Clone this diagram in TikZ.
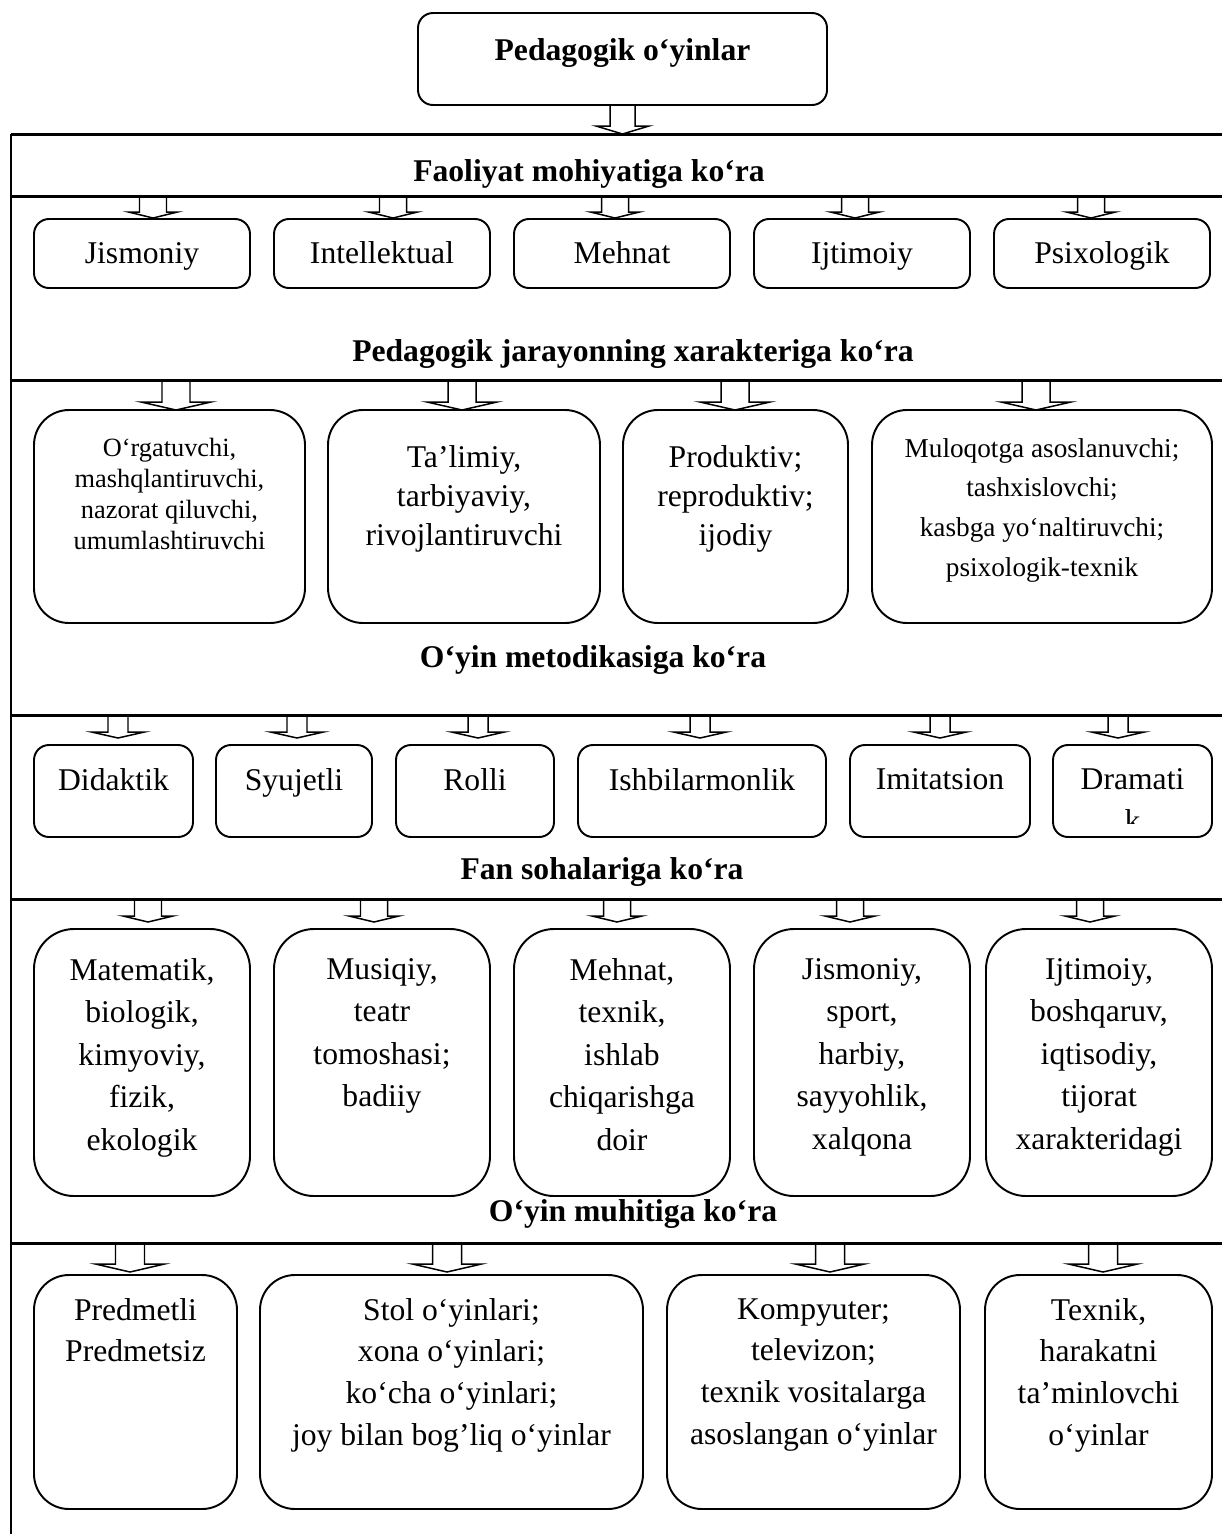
\documentclass[tikz,border=0pt]{standalone}
\usepackage{fontspec}
\setmainfont{Liberation Serif}
\usetikzlibrary{positioning,calc}

% hollow block arrow: from, to, half shaft, half head, head height, gap
\newcommand{\blkarrow}[6]{%
	\draw[blk] let \p1=(#1), \p2=(#2) in
	(\x1-#3,\y1) -- (\x1-#3,\y2+#6+#5) -- (\x1-#4,\y2+#6+#5) -- (\x1,\y2+#6)
	-- (\x1+#4,\y2+#6+#5) -- (\x1+#3,\y2+#6+#5) -- (\x1+#3,\y1);}

\begin{document}
\begin{tikzpicture}[x=0.2mm,y=-0.2mm]
	\tikzstyle{box}=[draw, line width=1.1pt, inner sep=0pt, outer sep=0pt, font=\fontsize{18}{22}\selectfont]
	\tikzstyle{row1}=[box, rounded corners=0.3cm, minimum width=4.32cm, minimum height=1.38cm, text height=13.5pt, text depth=2.7pt]
	\tikzstyle{row2}=[box, rounded corners=0.7cm, minimum height=4.26cm]
	\tikzstyle{row3}=[box, rounded corners=0.3cm, minimum height=1.84cm]
	\tikzstyle{row4}=[box, rounded corners=0.8cm, minimum height=5.34cm]
	\tikzstyle{row5}=[box, rounded corners=0.7cm, minimum height=4.68cm]
	\tikzstyle{txt}=[align=center, inner sep=0pt, font=\fontsize{18}{24}\selectfont]
	\tikzstyle{hd}=[inner sep=0pt, font=\fontsize{18}{22}\selectfont\bfseries]
	\tikzstyle{frame}=[line width=1.7pt]
	\tikzstyle{blk}=[line width=0.85pt]
	\useasboundingbox (0,0) rectangle (1222,1534);
	%Title
	\node[box, rounded corners=0.3cm, minimum width=8.18cm, minimum height=1.84cm, anchor=north west] (top) at (418,13) {};
	\node[hd, below=0.5cm of top.north] (t0) {Pedagogik o‘yinlar};
	%Frame
	\coordinate (l1w) at (11,134);   \coordinate (l1e) at (1222,134);
	\coordinate (l2w) at (11,196);   \coordinate (l2e) at (1222,196);
	\coordinate (l3w) at (11,380);   \coordinate (l3e) at (1222,380);
	\coordinate (l4w) at (11,715);   \coordinate (l4e) at (1222,715);
	\coordinate (l5w) at (11,899);   \coordinate (l5e) at (1222,899);
	\coordinate (l6w) at (11,1243);  \coordinate (l6e) at (1222,1243);
	\coordinate (fb) at (11,1534);
	\draw[frame] (l1w) -- (l1e);
	\draw[frame] (l2w) -- (l2e);
	\draw[frame] (l3w) -- (l3e);
	\draw[frame] (l4w) -- (l4e);
	\draw[frame] (l5w) -- (l5e);
	\draw[frame] (l6w) -- (l6e);
	\draw[frame] (l1w) -- (fb);
	%Headings
	\node[hd] (h1) at (589,174) {Faoliyat mohiyatiga ko‘ra};
	\node[hd] (h2) at (633,354) {Pedagogik jarayonning xarakteriga ko‘ra};
	\node[hd] (h3) at (593,660) {O‘yin metodikasiga ko‘ra};
	\node[hd] (h4) at (602,872) {Fan sohalariga ko‘ra};
	\node[hd] (h5) at (633,1214) {O‘yin muhitiga ko‘ra};
	%First Row
	\node[row1, anchor=north west] (b11) at (34,219) {Jismoniy};
	\node[row1, right=0.48cm of b11] (b12) {Intellektual};
	\node[row1, right=0.48cm of b12] (b13) {Mehnat};
	\node[row1, right=0.48cm of b13] (b14) {Ijtimoiy};
	\node[row1, right=0.48cm of b14] (b15) {Psixologik};
	%Second Row
	\node[row2, minimum width=5.42cm, anchor=north west] (b21) at (34,410) {};
	\node[row2, minimum width=5.44cm, right=0.46cm of b21] (b22) {};
	\node[row2, minimum width=4.5cm, right=0.46cm of b22] (b23) {};
	\node[row2, minimum width=6.8cm, right=0.48cm of b23] (b24) {};
	\node[txt, font=\fontsize{15}{17.6}\selectfont, below=0.56cm of b21.north] (t21) {O‘rgatuvchi,\\mashqlantiruvchi,\\nazorat qiluvchi,\\umumlashtiruvchi};
	\node[txt, font=\fontsize{18}{22.2}\selectfont, below=0.7cm of b22.north] (t22) {Ta’limiy,\\tarbiyaviy,\\rivojlantiruvchi};
	\node[txt, font=\fontsize{18}{22.2}\selectfont, below=0.7cm of b23.north] (t23) {Produktiv;\\reproduktiv;\\ijodiy};
	\node[txt, font=\fontsize{15.5}{22.6}\selectfont, below=0.56cm of b24.north] (t24) {Muloqotga asoslanuvchi;\\tashxislovchi;\\kasbga yo‘naltiruvchi;\\psixologik-texnik};
	%Third Row
	\node[row3, minimum width=3.18cm, anchor=north west] (b31) at (34,745) {};
	\node[row3, minimum width=3.12cm, right=0.46cm of b31] (b32) {};
	\node[row3, minimum width=3.16cm, right=0.48cm of b32] (b33) {};
	\node[row3, minimum width=4.96cm, right=0.48cm of b33] (b34) {};
	\node[row3, minimum width=3.6cm, right=0.48cm of b34] (b35) {};
	\node[row3, minimum width=3.18cm, right=0.46cm of b35] (b36) {};
	\node[txt, below=0.46cm of b31.north] (t31) {Didaktik};
	\node[txt, below=0.46cm of b32.north] (t32) {Syujetli};
	\node[txt, below=0.46cm of b33.north] (t33) {Rolli};
	\node[txt, below=0.46cm of b34.north] (t34) {Ishbilarmonlik};
	\node[txt, below=0.46cm of b35.north] (t35) {Imitatsion};
	\begin{scope}
		\clip (1053,745) rectangle (1212,823);
		\node[txt, below=0.46cm of b36.north] (t36) {Dramati\\k};
	\end{scope}
	%Fourth Row
	\node[row4, minimum width=4.32cm, anchor=north west] (b41) at (34,929) {};
	\node[row4, minimum width=4.32cm, right=0.48cm of b41] (b42) {};
	\node[row4, minimum width=4.32cm, right=0.48cm of b42] (b43) {};
	\node[row4, minimum width=4.32cm, right=0.48cm of b43] (b44) {};
	\node[row4, minimum width=4.52cm, right=0.32cm of b44] (b45) {};
	\node[txt, font=\fontsize{18}{24.2}\selectfont, below=0.58cm of b41.north] (t41) {Matematik,\\biologik,\\kimyoviy,\\fizik,\\ekologik};
	\node[txt, font=\fontsize{18}{24.2}\selectfont, below=0.58cm of b42.north] (t42) {Musiqiy,\\teatr\\tomoshasi;\\badiiy};
	\node[txt, font=\fontsize{18}{24.2}\selectfont, below=0.58cm of b43.north] (t43) {Mehnat,\\texnik,\\ishlab\\chiqarishga\\doir};
	\node[txt, font=\fontsize{18}{24.2}\selectfont, below=0.58cm of b44.north] (t44) {Jismoniy,\\sport,\\harbiy,\\sayyohlik,\\xalqona};
	\node[txt, font=\fontsize{18}{24.2}\selectfont, below=0.58cm of b45.north] (t45) {Ijtimoiy,\\boshqaruv,\\iqtisodiy,\\tijorat\\xarakteridagi};
	%Fifth Row
	\node[row5, minimum width=4.06cm, anchor=north west] (b51) at (34,1275) {};
	\node[row5, minimum width=7.66cm, right=0.46cm of b51] (b52) {};
	\node[row5, minimum width=5.86cm, right=0.48cm of b52] (b53) {};
	\node[row5, minimum width=4.54cm, right=0.5cm of b53] (b54) {};
	\node[txt, font=\fontsize{18}{23.7}\selectfont, below=0.46cm of b51.north] (t51) {Predmetli\\Predmetsiz};
	\node[txt, font=\fontsize{18}{23.7}\selectfont, below=0.46cm of b52.north] (t52) {Stol o‘yinlari;\\xona o‘yinlari;\\ko‘cha o‘yinlari;\\joy bilan bog’liq o‘yinlar};
	\node[txt, font=\fontsize{18}{23.7}\selectfont, below=0.46cm of b53.north] (t53) {Kompyuter;\\televizon;\\texnik vositalarga\\asoslangan o‘yinlar};
	\node[txt, font=\fontsize{18}{23.7}\selectfont, below=0.46cm of b54.north] (t54) {Texnik,\\harakatni\\ta’minlovchi\\o‘yinlar};
	%Arrows
	\coordinate (a0) at (620,134);
	\blkarrow{top.south}{a0}{0.25cm}{0.53cm}{0.16cm}{0cm}
	\coordinate (s11) at (153,196);
	\coordinate (s12) at (393,196);
	\coordinate (s13) at (615,196);
	\coordinate (s14) at (855,196);
	\coordinate (s15) at (1091,196);
	\blkarrow{s11}{b11.north}{0.27cm}{0.49cm}{0.12cm}{0.02cm}
	\blkarrow{s12}{b12.north}{0.27cm}{0.49cm}{0.12cm}{0.02cm}
	\blkarrow{s13}{b13.north}{0.27cm}{0.49cm}{0.12cm}{0.02cm}
	\blkarrow{s14}{b14.north}{0.27cm}{0.49cm}{0.12cm}{0.02cm}
	\blkarrow{s15}{b15.north}{0.27cm}{0.49cm}{0.12cm}{0.02cm}
	\coordinate (s21) at (176,380);
	\coordinate (s22) at (462,380);
	\coordinate (s23) at (735,380);
	\coordinate (s24) at (1036,380);
	\blkarrow{s21}{b21.north}{0.28cm}{0.7cm}{0.16cm}{0cm}
	\blkarrow{s22}{b22.north}{0.28cm}{0.7cm}{0.16cm}{0cm}
	\blkarrow{s23}{b23.north}{0.28cm}{0.7cm}{0.16cm}{0cm}
	\blkarrow{s24}{b24.north}{0.28cm}{0.7cm}{0.16cm}{0cm}
	\coordinate (s31) at (118,715);
	\coordinate (s32) at (297,715);
	\coordinate (s33) at (478,715);
	\coordinate (s34) at (700,715);
	\coordinate (s35) at (940,715);
	\coordinate (s36) at (1118,715);
	\blkarrow{s31}{b31.north}{0.2cm}{0.53cm}{0.12cm}{0.14cm}
	\blkarrow{s32}{b32.north}{0.2cm}{0.53cm}{0.12cm}{0.14cm}
	\blkarrow{s33}{b33.north}{0.2cm}{0.53cm}{0.12cm}{0.14cm}
	\blkarrow{s34}{b34.north}{0.2cm}{0.53cm}{0.12cm}{0.14cm}
	\blkarrow{s35}{b35.north}{0.2cm}{0.53cm}{0.12cm}{0.14cm}
	\blkarrow{s36}{b36.north}{0.2cm}{0.53cm}{0.12cm}{0.14cm}
	\coordinate (s41) at (148,899);
	\coordinate (s42) at (374,899);
	\coordinate (s43) at (617,899);
	\coordinate (s44) at (850,899);
	\coordinate (s45) at (1090,899);
	\blkarrow{s41}{b41.north}{0.27cm}{0.5cm}{0.12cm}{0.14cm}
	\blkarrow{s42}{b42.north}{0.27cm}{0.5cm}{0.12cm}{0.14cm}
	\blkarrow{s43}{b43.north}{0.27cm}{0.5cm}{0.12cm}{0.14cm}
	\blkarrow{s44}{b44.north}{0.27cm}{0.5cm}{0.12cm}{0.14cm}
	\blkarrow{s45}{b45.north}{0.27cm}{0.5cm}{0.12cm}{0.14cm}
	\coordinate (s51) at (130,1243);
	\coordinate (s52) at (447,1243);
	\coordinate (s53) at (830,1243);
	\coordinate (s54) at (1103,1243);
	\blkarrow{s51}{b51.north}{0.29cm}{0.69cm}{0.16cm}{0.06cm}
	\blkarrow{s52}{b52.north}{0.29cm}{0.69cm}{0.16cm}{0.06cm}
	\blkarrow{s53}{b53.north}{0.29cm}{0.69cm}{0.16cm}{0.06cm}
	\blkarrow{s54}{b54.north}{0.29cm}{0.69cm}{0.16cm}{0.06cm}
\end{tikzpicture}
\end{document}
